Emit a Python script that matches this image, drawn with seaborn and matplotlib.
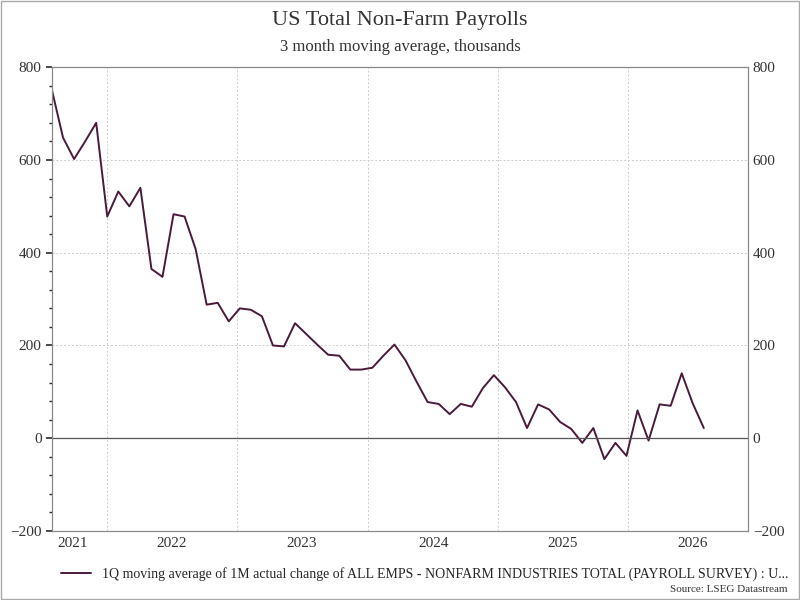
import matplotlib
matplotlib.use("Agg")
import matplotlib.pyplot as plt
import seaborn as sns
import pandas as pd
import numpy as np

values = [750, 648, 602, 640, 680, 478, 532, 500, 540, 365, 348, 483, 478, 408, 288, 292,
          252, 280, 277, 263, 200, 198, 248, 225, 202, 180, 178, 148, 148, 152, 178, 202,
          168, 122, 78, 74, 52, 74, 68, 108, 136, 110, 78, 22, 73, 62, 35, 20, -10, 22,
          -45, -10, -38, 60, -5, 73, 70, 140, 75, 22]
months = pd.date_range("2021-08-01", periods=len(values), freq="MS").strftime("%Y-%m")
year_labels = ["2021", "2022", "2023", "2024", "2025", "2026"]
legend_label = "1Q moving average of 1M actual change of ALL EMPS - NONFARM INDUSTRIES TOTAL (PAYROLL SURVEY) : U..."

sns.set_theme(style="white")
plt.rcParams['font.family'] = ['Liberation Serif', 'DejaVu Serif']

df = pd.DataFrame({"idx": np.arange(len(values)), "month": months, "value": values})
fig = plt.figure(figsize=(8, 6), dpi=100)
ax = fig.add_axes([0.065, 0.115, 0.87, 0.773])
sns.lineplot(data=df, x="idx", y="value", ax=ax, color="#4a1a3a", linewidth=1.4, label=legend_label, legend=False)

ax.set_xlim(0, 63)
ax.set_ylim(-200, 800)
ax.set_yticks([-200, 0, 200, 400, 600, 800])
ax.yaxis.set_minor_locator(matplotlib.ticker.MultipleLocator(40))
ax.axhline(0, color="#555555", linewidth=0.9)

major = [4.98, 16.74, 28.6, 40.36, 52.1]
ax.set_xticks(major)
ax.set_xticklabels([])
mids = [1.9, 10.86, 22.6, 34.5, 46.2, 58.0]
ax.set_xticks(mids, minor=True)
ax.set_xticklabels(year_labels, minor=True)
ax.tick_params(axis="x", which="minor", length=0, labelsize=11, colors="#333333", pad=4)
ax.tick_params(axis="x", which="major", length=0)
ax.grid(True, which="major", linestyle=(0, (2, 2)), color="#cccccc", linewidth=0.7)
ax.tick_params(axis="y", which="major", labelsize=11, colors="#333333", length=4, left=True)
ax.tick_params(axis="y", which="minor", length=2, left=True)

ax2 = ax.twinx()
ax2.set_ylim(-200, 800)
ax2.set_yticks([-200, 0, 200, 400, 600, 800])
ax2.tick_params(axis="y", labelsize=11, colors="#333333", length=0)
for a in (ax, ax2):
    for s in a.spines.values():
        s.set_color("#888888")
        s.set_linewidth(0.8)
ax.set_xlabel("")
ax.set_ylabel("")

fig.text(0.5, 0.965, "US Total Non-Farm Payrolls", ha="center", va="center", fontsize=16, color="#333333")
fig.text(0.5, 0.922, "3 month moving average, thousands", ha="center", va="center", fontsize=12, color="#333333")
handles, labels = ax.get_legend_handles_labels()
fig.legend(handles, labels, loc="center left", bbox_to_anchor=(0.06, 0.043), frameon=False, fontsize=10, handlelength=2.2)
fig.text(0.985, 0.01, "Source: LSEG Datastream", ha="right", va="bottom", fontsize=8, color="#333333")
fig.patches.append(matplotlib.patches.Rectangle((0.001, 0.001), 0.998, 0.998, transform=fig.transFigure, fill=False, edgecolor="#aaaaaa", linewidth=1))
fig.savefig("out.png", dpi=100)
